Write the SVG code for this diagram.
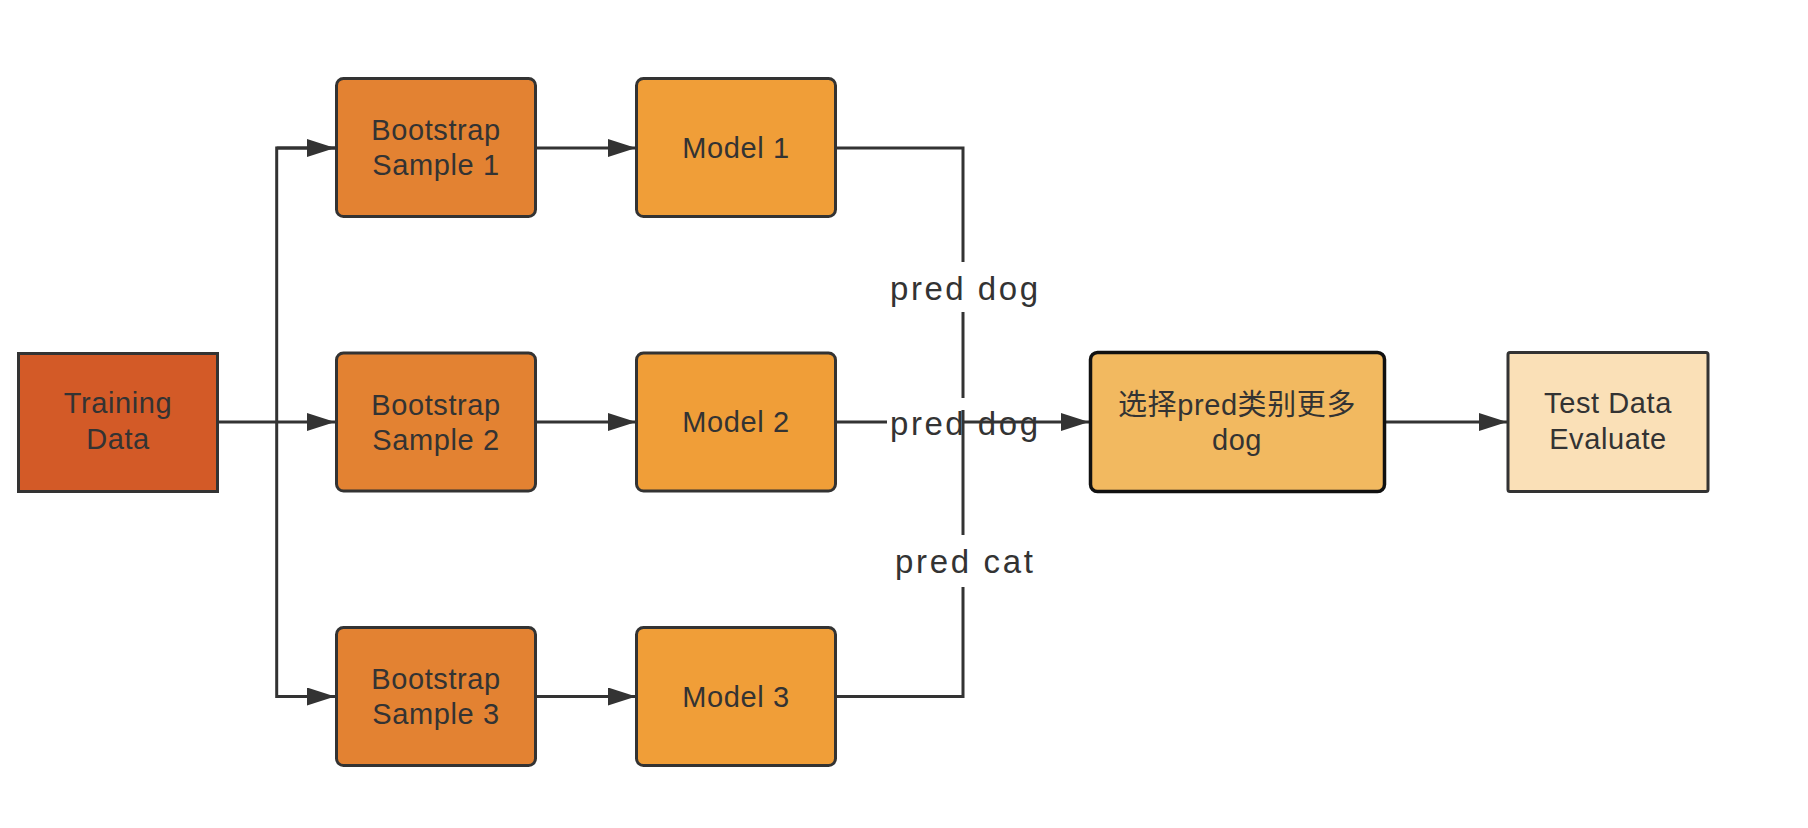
<svg xmlns="http://www.w3.org/2000/svg" width="1808" height="828" viewBox="0 0 1808 828">
<style>
.node{stroke:#333333;stroke-width:3}
.t{font-family:"Liberation Sans","Noto Sans CJK SC",sans-serif;font-size:29px;fill:#333333;text-anchor:middle;letter-spacing:0.6px}
.lbl{font-family:"Liberation Sans","Noto Sans CJK SC",sans-serif;font-size:33px;fill:#333333;text-anchor:middle}
.c{fill:none;stroke:#333333;stroke-width:3}
</style>
<defs>
<marker id="ah" markerWidth="28" markerHeight="18" refX="28" refY="9" orient="auto" markerUnits="userSpaceOnUse">
<path d="M0,0 L28,9 L0,18 Z" fill="#333333"/>
</marker>
</defs>
<rect width="1808" height="828" fill="#ffffff"/>

<g id="connectors">
<path class="c" d="M218,422 H335" marker-end="url(#ah)"/>
<path class="c" d="M335,148 H276.7 V696.5 H335" marker-end="url(#ah)"/>
<path class="c" d="M276.7,148 H335" marker-end="url(#ah)"/>
<path class="c" d="M537,148 H636" marker-end="url(#ah)"/>
<path class="c" d="M537,422 H636" marker-end="url(#ah)"/>
<path class="c" d="M537,696.5 H636" marker-end="url(#ah)"/>
<path class="c" d="M837,148 H963 V262"/>
<path class="c" d="M963,312 V398"/>
<path class="c" d="M837,422 H887"/>
<path class="c" d="M963,410 V535"/>
<path class="c" d="M963,422 H1089" marker-end="url(#ah)"/>
<path class="c" d="M837,696.5 H963 V587"/>
<path class="c" d="M1386,422 H1507" marker-end="url(#ah)"/>
</g>

<g id="labels">
<text class="lbl" x="964" y="300" textLength="148" lengthAdjust="spacing">pred dog</text>
<text class="lbl" x="964" y="435" textLength="148" lengthAdjust="spacing">pred dog</text>
<text class="lbl" x="964" y="573" textLength="138" lengthAdjust="spacing">pred cat</text>
</g>

<g id="training-data">
<rect class="node" x="18.5" y="353.5" width="199" height="138" fill="#D35A27"/>
<text class="t" x="118" y="413">Training</text>
<text class="t" x="118" y="449">Data</text>
</g>

<g id="bootstrap-1">
<rect class="node" x="336.5" y="78.5" width="199" height="138" rx="7" fill="#E38232"/>
<text class="t" x="436" y="140">Bootstrap</text>
<text class="t" x="436" y="175">Sample 1</text>
</g>
<g id="bootstrap-2">
<rect class="node" x="336.5" y="353" width="199" height="138" rx="7" fill="#E38232"/>
<text class="t" x="436" y="414.5">Bootstrap</text>
<text class="t" x="436" y="449.5">Sample 2</text>
</g>
<g id="bootstrap-3">
<rect class="node" x="336.5" y="627.5" width="199" height="138" rx="7" fill="#E38232"/>
<text class="t" x="436" y="689">Bootstrap</text>
<text class="t" x="436" y="724">Sample 3</text>
</g>

<g id="model-1">
<rect class="node" x="636.5" y="78.5" width="199" height="138" rx="7" fill="#F09E38"/>
<text class="t" x="736" y="157.5">Model 1</text>
</g>
<g id="model-2">
<rect class="node" x="636.5" y="353" width="199" height="138" rx="7" fill="#F09E38"/>
<text class="t" x="736" y="432">Model 2</text>
</g>
<g id="model-3">
<rect class="node" x="636.5" y="627.5" width="199" height="138" rx="7" fill="#F09E38"/>
<text class="t" x="736" y="706.5">Model 3</text>
</g>

<g id="vote">
<rect x="1090.5" y="352.5" width="294" height="139" rx="7" fill="#F2B960" stroke="#111111" stroke-width="3.5"/>
<text class="t" x="1237" y="415">选择pred类别更多</text>
<text class="t" x="1237" y="450">dog</text>
</g>

<g id="test-data">
<rect class="node" x="1508" y="352.5" width="200" height="139" rx="2" fill="#FAE0B7"/>
<text class="t" x="1608" y="413">Test Data</text>
<text class="t" x="1608" y="449">Evaluate</text>
</g>
</svg>
